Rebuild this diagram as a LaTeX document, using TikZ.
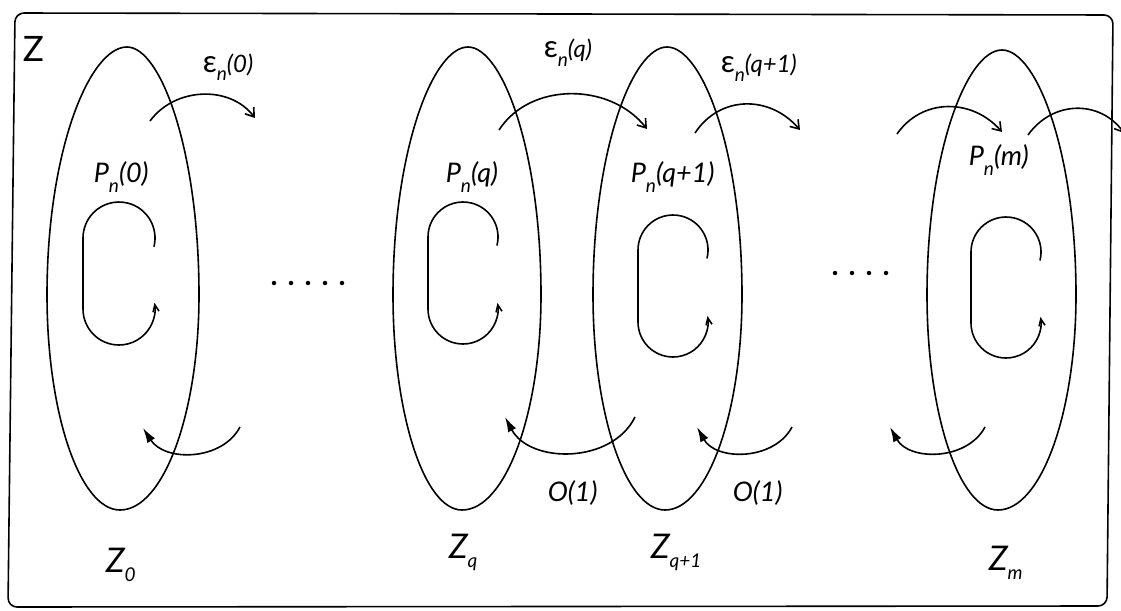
\documentclass[tikz,border=0pt]{standalone}
\usepackage{fontspec}
\setmainfont{Lato}
\usetikzlibrary{arrows.meta,calc}
\newcommand{\lsub}[2][10pt]{\raisebox{-#1}{\fontsize{19}{19}\selectfont #2}}
\newcommand{\eps}{{\upshape\fontsize{31}{31}\selectfont ε}}
\begin{document}
\begin{tikzpicture}[x=1pt,y=-1pt,line width=1.6pt,
  lbl/.style={inner sep=0pt,anchor=base west,font=\fontsize{27}{27}\selectfont\itshape},
  elbl/.style={inner sep=0pt,anchor=base west,font=\fontsize{24}{24}\selectfont\itshape},
  zlbl/.style={inner sep=0pt,anchor=base west,font=\fontsize{34}{34}\selectfont\itshape},
  oarrow/.style={-{Straight Barb[length=8pt,width=11pt]}},
  farrow/.style={-{Latex[length=15pt,width=9pt]}},
  larrow/.style={-{Straight Barb[length=7pt,width=6pt]}},
  dot/.style={circle,fill,inner sep=0pt,minimum size=4.5pt}]
\useasboundingbox (0,0) rectangle (1121,610);
% frame
\draw[rounded corners=9pt] (15,13) -- (1113,15) -- (1107,606) -- (8,607) -- cycle;
\node[inner sep=0pt,anchor=base west,font=\fontsize{35}{35}\selectfont] (Z) at (22,61) {Z};
% egg-shaped ellipses: top x/y, bottom x/y, left x, right x
\foreach \tx/\ty/\bx/\by/\l/\r in {127/47/120/510/47/199, 468/47/462/510/393/541, 667/47/665/510/593/742, 1002/50/998/510/927/1076}{
  \draw (\tx,\ty) .. controls ({\tx+0.47*(\r-\tx)},\ty) and (\r,{\ty+0.42*(295-\ty)}) .. (\r,295)
     .. controls (\r,{295+0.55*(\by-295)}) and ({\bx+0.55*(\r-\bx)},\by) .. (\bx,\by)
     .. controls ({\bx-0.55*(\bx-\l)},\by) and (\l,{295+0.55*(\by-295)}) .. (\l,295)
     .. controls (\l,{\ty+0.42*(295-\ty)}) and ({\tx-0.47*(\tx-\l)},\ty) .. cycle;
}
% inner loops: cx, top-center y, bottom-center y, r
\foreach \cx/\ty/\by/\r in {119/238/309/36, 463/237/309/35, 673/250/322/35, 1006/252/323/35}{
  \draw[larrow] ($(\cx,\ty)+(14:\r)$) arc[start angle=14,end angle=-180,radius=\r]
     -- (\cx-\r,\by) arc[start angle=180,end angle=-10,radius=\r];
}
% top arrows
\draw[oarrow] (150,121) .. controls (175,87) and (230,85) .. (255,118);
\draw[oarrow] (499,130) .. controls (530,82) and (610,82) .. (647,129);
\draw[oarrow] (695,133) .. controls (720,95) and (770,95) .. (800,130);
\draw[oarrow] (897,134) .. controls (922,98) and (972,98) .. (1002,132);
\draw[oarrow] (1028,135) .. controls (1053,100) and (1100,100) .. (1124,133);
% bottom arrows
\draw[farrow] (240,427) .. controls (222,461) and (165,462) .. (143,428);
\draw[farrow] (635,417) .. controls (612,464) and (530,464) .. (505,417);
\draw[farrow] (792,427) .. controls (774,461) and (716,461) .. (697,427);
\draw[farrow] (985,427) .. controls (967,461) and (909,461) .. (890,427);
% dots
\foreach \x in {274,291,308,325,342} \node[dot] at (\x,283) {};
\foreach \x in {835,852,869,886} \node[dot] at (\x,273) {};
% labels
\node[lbl] (P0) at (93,182) {P\lsub{n}(0)};
\node[lbl] (Pq) at (445,182) {P\lsub{n}(q)};
\node[lbl] (Pq1) at (630,182) {P\lsub{n}(q+1)};
\node[lbl] (Pm) at (968,165) {P\lsub{n}(m)};
\node[elbl] (E0) at (202,72) {\eps\lsub[9pt]{n}(0)};
\node[elbl] (Eq) at (543,58) {\eps\lsub[9pt]{n}(q)};
\node[elbl] (Eq1) at (720,73) {\eps\lsub[9pt]{n}(q+1)};
\node[lbl] (O1) at (547,501) {O(1)};
\node[lbl] (O2) at (732,501) {O(1)};
\node[zlbl] (Z0) at (105,572) {Z\lsub[9pt]{0}};
\node[zlbl] (Zq) at (448,558) {Z\lsub[9pt]{q}};
\node[zlbl] (Zq1) at (650,558) {Z\lsub[9pt]{q+1}};
\node[zlbl] (Zm) at (988,570) {Z\lsub[9pt]{m}};
\end{tikzpicture}
\end{document}
